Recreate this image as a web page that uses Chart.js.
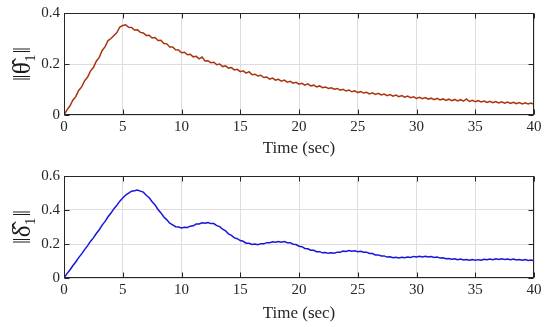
<!DOCTYPE html>
<html>
<head>
<meta charset="utf-8">
<script src="https://cdn.jsdelivr.net/npm/chart.js@4.4.1/dist/chart.umd.min.js"></script>
<style>
  html, body { margin: 0; padding: 0; background: #ffffff; }
  #wrap { position: relative; width: 550px; height: 327px; overflow: hidden; }
  .pane { position: absolute; left: 0; width: 550px; }
</style>
</head>
<body>
<div id="wrap">
  <div class="pane" style="top:0;height:163px"><canvas id="c1" width="550" height="163"></canvas></div>
  <div class="pane" style="top:163px;height:164px"><canvas id="c2" width="550" height="164"></canvas></div>
</div>
<script>
// ---- data (sampled every 0.25 s from 0 to 40 s) ----
const timeStep = 0.25;
const xTickValues = [0, 5, 10, 15, 20, 25, 30, 35, 40];
const xLabel = 'Time (sec)';
const thetaLabel = '‖θ̂₁‖';
const deltaLabel = '‖δ̂₁‖';
const thetaTicks = [0, 0.2, 0.4];
const deltaTicks = [0, 0.2, 0.4, 0.6];

const thetaNorm = [
  0.000,0.020,0.035,0.058,0.072,0.096,0.110,0.134,
  0.148,0.172,0.186,0.211,0.226,0.253,0.268,0.292,
  0.300,0.312,0.323,0.345,0.351,0.354,0.344,0.343,
  0.333,0.334,0.324,0.322,0.312,0.313,0.302,0.304,
  0.292,0.293,0.280,0.279,0.267,0.267,0.256,0.255,
  0.244,0.246,0.236,0.238,0.228,0.230,0.220,0.227,
  0.212,0.213,0.205,0.207,0.197,0.200,0.190,0.193,
  0.184,0.186,0.177,0.179,0.170,0.173,0.164,0.170,
  0.158,0.160,0.153,0.156,0.147,0.149,0.141,0.145,
  0.137,0.140,0.133,0.137,0.129,0.132,0.125,0.128,
  0.121,0.124,0.117,0.122,0.114,0.117,0.110,0.114,
  0.107,0.110,0.104,0.107,0.101,0.104,0.097,0.101,
  0.094,0.098,0.091,0.095,0.088,0.092,0.086,0.089,
  0.083,0.087,0.081,0.085,0.079,0.082,0.076,0.080,
  0.074,0.078,0.072,0.076,0.070,0.074,0.068,0.071,
  0.065,0.069,0.064,0.068,0.062,0.066,0.060,0.065,
  0.059,0.063,0.057,0.062,0.056,0.061,0.055,0.060,
  0.054,0.063,0.053,0.058,0.052,0.057,0.051,0.055,
  0.049,0.054,0.048,0.053,0.047,0.052,0.046,0.051,
  0.045,0.050,0.044,0.049,0.043,0.048,0.043,0.047,
  0.042
];

const deltaNorm = [
  0.000,0.026,0.047,0.072,0.094,0.120,0.142,0.167,
  0.189,0.215,0.236,0.262,0.284,0.311,0.333,0.360,
  0.382,0.408,0.428,0.452,0.470,0.488,0.499,0.511,
  0.513,0.518,0.511,0.505,0.487,0.472,0.449,0.430,
  0.403,0.383,0.359,0.342,0.322,0.313,0.302,0.300,
  0.294,0.299,0.297,0.305,0.307,0.317,0.318,0.325,
  0.322,0.326,0.320,0.320,0.308,0.302,0.287,0.278,
  0.260,0.251,0.236,0.231,0.220,0.216,0.205,0.204,
  0.197,0.200,0.196,0.202,0.201,0.208,0.207,0.213,
  0.210,0.215,0.211,0.214,0.208,0.208,0.199,0.197,
  0.187,0.184,0.174,0.172,0.163,0.163,0.155,0.155,
  0.148,0.150,0.145,0.149,0.146,0.152,0.151,0.158,
  0.156,0.161,0.157,0.160,0.155,0.157,0.151,0.152,
  0.144,0.144,0.136,0.136,0.129,0.130,0.123,0.125,
  0.119,0.122,0.118,0.122,0.119,0.124,0.121,0.127,
  0.123,0.128,0.124,0.128,0.123,0.126,0.121,0.123,
  0.117,0.119,0.113,0.115,0.110,0.113,0.108,0.111,
  0.106,0.109,0.104,0.108,0.104,0.108,0.105,0.110,
  0.107,0.112,0.108,0.113,0.109,0.113,0.109,0.112,
  0.108,0.111,0.106,0.109,0.104,0.108,0.103,0.106,
  0.102
];

// ---- drawing ----
const serif = "'Liberation Serif', 'DejaVu Serif', 'Times New Roman', serif";

const boxPlugin = {
  id: 'matlabBox',
  afterDatasetsDraw(chart) {
    const { ctx, chartArea: a, scales: { x, y } } = chart;
    ctx.save();
    ctx.strokeStyle = '#262626';
    ctx.lineWidth = 1;
    const L = Math.round(a.left) + 0.5, R = Math.round(a.right) - 0.5;
    const T = Math.round(a.top) + 0.5, B = Math.round(a.bottom) - 0.5;
    ctx.strokeRect(L, T, R - L, B - T);
    const tl = 5;
    ctx.beginPath();
    x.ticks.forEach(t => {
      const px = Math.round(x.getPixelForValue(t.value)) + 0.5;
      ctx.moveTo(px, B); ctx.lineTo(px, B - tl);
      ctx.moveTo(px, T); ctx.lineTo(px, T + tl);
    });
    y.ticks.forEach(t => {
      const py = Math.round(y.getPixelForValue(t.value)) + 0.5;
      ctx.moveTo(L, py); ctx.lineTo(L + tl, py);
      ctx.moveTo(R, py); ctx.lineTo(R - tl, py);
    });
    ctx.stroke();
    ctx.restore();
  }
};

function makeChart(id, values, color, yLabel, yTicks, padTop, xHeight, titlePad) {
  const pts = values.map((v, i) => ({ x: i * timeStep, y: v }));
  const yMax = yTicks[yTicks.length - 1];
  return new Chart(document.getElementById(id), {
    type: 'line',
    data: { datasets: [{ data: pts, borderColor: color, borderWidth: 1.5, pointRadius: 0, tension: 0, fill: false }] },
    options: {
      responsive: false,
      animation: false,
      devicePixelRatio: 1,
      layout: { padding: { top: padTop, right: 16, left: 0, bottom: 0 } },
      plugins: { legend: { display: false }, tooltip: { enabled: false } },
      scales: {
        x: {
          type: 'linear', min: 0, max: 40,
          afterBuildTicks: s => { s.ticks = xTickValues.map(v => ({ value: v })); },
          afterFit: s => { s.height = xHeight; },
          grid: { color: '#dedede', lineWidth: 1, drawTicks: false },
          border: { display: false },
          ticks: { color: '#262626', font: { family: serif, size: 15 }, padding: 3, maxRotation: 0 },
          title: { display: true, text: xLabel, color: '#262626', font: { family: serif, size: 17 }, padding: { top: 0, bottom: titlePad } }
        },
        y: {
          type: 'linear', min: 0, max: yMax,
          afterBuildTicks: s => { s.ticks = yTicks.map(v => ({ value: v })); },
          afterFit: s => { s.width = 64; },
          grid: { color: '#dedede', lineWidth: 1, drawTicks: false },
          border: { display: false },
          ticks: { color: '#262626', font: { family: serif, size: 15 }, padding: 4,
                   callback: v => v === 0 ? '0' : v.toFixed(1) },
          title: { display: true, text: yLabel, color: '#1a1a1a', font: { family: serif, size: 25 }, padding: { top: 8, bottom: 0 } }
        }
      }
    },
    plugins: [boxPlugin]
  });
}

makeChart('c1', thetaNorm, '#a8340f', thetaLabel, thetaTicks, 11, 48, 4);
makeChart('c2', deltaNorm, '#1616d8', deltaLabel, deltaTicks, 13, 49, 3);
</script>
</body>
</html>
